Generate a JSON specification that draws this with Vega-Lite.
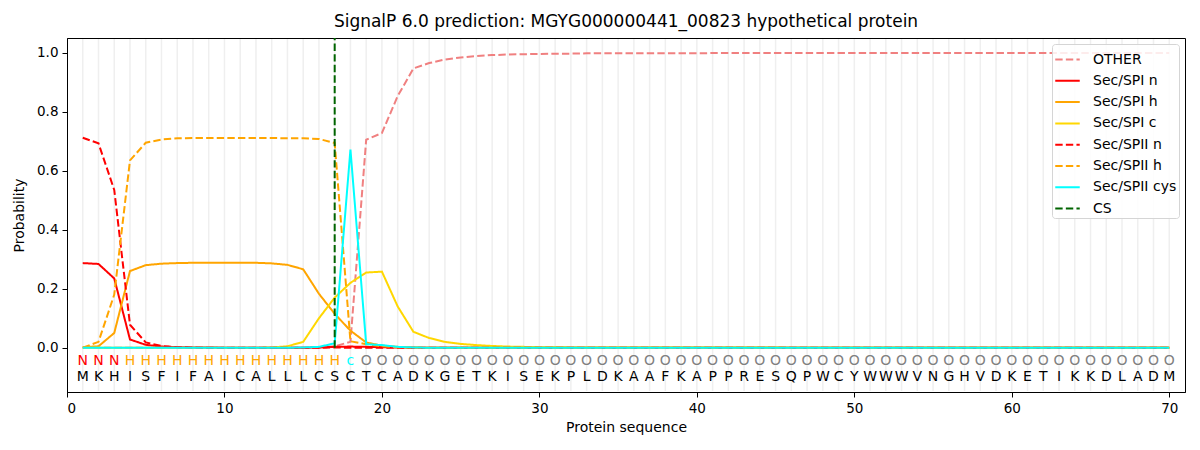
{
  "$schema": "https://vega.github.io/schema/vega-lite/v6.json",
  "autosize": {"type": "none"},
  "padding": {"left": 67, "top": 38, "right": 15, "bottom": 58},
  "width": 1118,
  "height": 354,
  "title": {"text": "SignalP 6.0 prediction: MGYG000000441_00823 hypothetical protein", "fontSize": 17, "fontWeight": "normal", "font": "DejaVu Sans", "offset": 7, "color": "black"},
  "datasets": {
    "seq": [
      {"p":1,"aa":"M","lab":"N","OTHER":0,"Sec/SPI n":0.287,"Sec/SPI h":0.002,"Sec/SPI c":0,"Sec/SPII n":0.712,"Sec/SPII h":0.0,"Sec/SPII cys":0},
      {"p":2,"aa":"K","lab":"N","OTHER":0,"Sec/SPI n":0.284,"Sec/SPI h":0.005,"Sec/SPI c":0,"Sec/SPII n":0.693,"Sec/SPII h":0.02,"Sec/SPII cys":0},
      {"p":3,"aa":"H","lab":"N","OTHER":0,"Sec/SPI n":0.235,"Sec/SPI h":0.05,"Sec/SPI c":0,"Sec/SPII n":0.535,"Sec/SPII h":0.18,"Sec/SPII cys":0},
      {"p":4,"aa":"I","lab":"H","OTHER":0,"Sec/SPI n":0.028,"Sec/SPI h":0.26,"Sec/SPI c":0,"Sec/SPII n":0.078,"Sec/SPII h":0.635,"Sec/SPII cys":0},
      {"p":5,"aa":"S","lab":"H","OTHER":0,"Sec/SPI n":0.01,"Sec/SPI h":0.28,"Sec/SPI c":0,"Sec/SPII n":0.018,"Sec/SPII h":0.695,"Sec/SPII cys":0},
      {"p":6,"aa":"F","lab":"H","OTHER":0,"Sec/SPI n":0.004,"Sec/SPI h":0.285,"Sec/SPI c":0,"Sec/SPII n":0.006,"Sec/SPII h":0.706,"Sec/SPII cys":0},
      {"p":7,"aa":"I","lab":"H","OTHER":0,"Sec/SPI n":0.002,"Sec/SPI h":0.287,"Sec/SPI c":0,"Sec/SPII n":0.002,"Sec/SPII h":0.71,"Sec/SPII cys":0},
      {"p":8,"aa":"F","lab":"H","OTHER":0,"Sec/SPI n":0.001,"Sec/SPI h":0.288,"Sec/SPI c":0,"Sec/SPII n":0.001,"Sec/SPII h":0.711,"Sec/SPII cys":0},
      {"p":9,"aa":"A","lab":"H","OTHER":0,"Sec/SPI n":0.001,"Sec/SPI h":0.288,"Sec/SPI c":0,"Sec/SPII n":0,"Sec/SPII h":0.711,"Sec/SPII cys":0},
      {"p":10,"aa":"I","lab":"H","OTHER":0,"Sec/SPI n":0,"Sec/SPI h":0.288,"Sec/SPI c":0,"Sec/SPII n":0,"Sec/SPII h":0.711,"Sec/SPII cys":0},
      {"p":11,"aa":"C","lab":"H","OTHER":0,"Sec/SPI n":0,"Sec/SPI h":0.288,"Sec/SPI c":0,"Sec/SPII n":0,"Sec/SPII h":0.711,"Sec/SPII cys":0},
      {"p":12,"aa":"A","lab":"H","OTHER":0,"Sec/SPI n":0,"Sec/SPI h":0.288,"Sec/SPI c":0,"Sec/SPII n":0,"Sec/SPII h":0.711,"Sec/SPII cys":0},
      {"p":13,"aa":"L","lab":"H","OTHER":0,"Sec/SPI n":0,"Sec/SPI h":0.286,"Sec/SPI c":0.001,"Sec/SPII n":0,"Sec/SPII h":0.711,"Sec/SPII cys":0},
      {"p":14,"aa":"L","lab":"H","OTHER":0,"Sec/SPI n":0,"Sec/SPI h":0.281,"Sec/SPI c":0.005,"Sec/SPII n":0,"Sec/SPII h":0.71,"Sec/SPII cys":0},
      {"p":15,"aa":"L","lab":"H","OTHER":0,"Sec/SPI n":0,"Sec/SPI h":0.266,"Sec/SPI c":0.02,"Sec/SPII n":0,"Sec/SPII h":0.71,"Sec/SPII cys":0.001},
      {"p":16,"aa":"C","lab":"H","OTHER":0.001,"Sec/SPI n":0.001,"Sec/SPI h":0.183,"Sec/SPI c":0.1,"Sec/SPII n":0,"Sec/SPII h":0.708,"Sec/SPII cys":0.003},
      {"p":17,"aa":"S","lab":"H","OTHER":0.005,"Sec/SPI n":0.003,"Sec/SPI h":0.115,"Sec/SPI c":0.17,"Sec/SPII n":0.001,"Sec/SPII h":0.694,"Sec/SPII cys":0.015},
      {"p":18,"aa":"C","lab":"c","OTHER":0.02,"Sec/SPI n":0.004,"Sec/SPI h":0.058,"Sec/SPI c":0.22,"Sec/SPII n":0,"Sec/SPII h":0.022,"Sec/SPII cys":0.672},
      {"p":19,"aa":"T","lab":"O","OTHER":0.705,"Sec/SPI n":0.003,"Sec/SPI h":0.018,"Sec/SPI c":0.255,"Sec/SPII n":0,"Sec/SPII h":0.012,"Sec/SPII cys":0.012},
      {"p":20,"aa":"C","lab":"O","OTHER":0.728,"Sec/SPI n":0.002,"Sec/SPI h":0.007,"Sec/SPI c":0.258,"Sec/SPII n":0,"Sec/SPII h":0.005,"Sec/SPII cys":0.009},
      {"p":21,"aa":"A","lab":"O","OTHER":0.853,"Sec/SPI n":0.001,"Sec/SPI h":0.003,"Sec/SPI c":0.14,"Sec/SPII n":0,"Sec/SPII h":0.002,"Sec/SPII cys":0.003},
      {"p":22,"aa":"D","lab":"O","OTHER":0.947,"Sec/SPI n":0,"Sec/SPI h":0.001,"Sec/SPI c":0.054,"Sec/SPII n":0,"Sec/SPII h":0.001,"Sec/SPII cys":0.001},
      {"p":23,"aa":"K","lab":"O","OTHER":0.965,"Sec/SPI n":0,"Sec/SPI h":0,"Sec/SPI c":0.033,"Sec/SPII n":0,"Sec/SPII h":0,"Sec/SPII cys":0},
      {"p":24,"aa":"G","lab":"O","OTHER":0.977,"Sec/SPI n":0,"Sec/SPI h":0,"Sec/SPI c":0.02,"Sec/SPII n":0,"Sec/SPII h":0,"Sec/SPII cys":0},
      {"p":25,"aa":"E","lab":"O","OTHER":0.984,"Sec/SPI n":0,"Sec/SPI h":0,"Sec/SPI c":0.013,"Sec/SPII n":0,"Sec/SPII h":0,"Sec/SPII cys":0},
      {"p":26,"aa":"T","lab":"O","OTHER":0.989,"Sec/SPI n":0,"Sec/SPI h":0,"Sec/SPI c":0.009,"Sec/SPII n":0,"Sec/SPII h":0,"Sec/SPII cys":0},
      {"p":27,"aa":"K","lab":"O","OTHER":0.992,"Sec/SPI n":0,"Sec/SPI h":0,"Sec/SPI c":0.006,"Sec/SPII n":0,"Sec/SPII h":0,"Sec/SPII cys":0},
      {"p":28,"aa":"I","lab":"O","OTHER":0.994,"Sec/SPI n":0,"Sec/SPI h":0,"Sec/SPI c":0.004,"Sec/SPII n":0,"Sec/SPII h":0,"Sec/SPII cys":0},
      {"p":29,"aa":"S","lab":"O","OTHER":0.995,"Sec/SPI n":0,"Sec/SPI h":0,"Sec/SPI c":0.003,"Sec/SPII n":0,"Sec/SPII h":0,"Sec/SPII cys":0},
      {"p":30,"aa":"E","lab":"O","OTHER":0.996,"Sec/SPI n":0,"Sec/SPI h":0,"Sec/SPI c":0.002,"Sec/SPII n":0,"Sec/SPII h":0,"Sec/SPII cys":0},
      {"p":31,"aa":"K","lab":"O","OTHER":0.997,"Sec/SPI n":0,"Sec/SPI h":0,"Sec/SPI c":0.002,"Sec/SPII n":0,"Sec/SPII h":0,"Sec/SPII cys":0},
      {"p":32,"aa":"P","lab":"O","OTHER":0.997,"Sec/SPI n":0,"Sec/SPI h":0,"Sec/SPI c":0.001,"Sec/SPII n":0,"Sec/SPII h":0,"Sec/SPII cys":0},
      {"p":33,"aa":"L","lab":"O","OTHER":0.998,"Sec/SPI n":0,"Sec/SPI h":0,"Sec/SPI c":0.001,"Sec/SPII n":0,"Sec/SPII h":0,"Sec/SPII cys":0},
      {"p":34,"aa":"D","lab":"O","OTHER":0.998,"Sec/SPI n":0,"Sec/SPI h":0,"Sec/SPI c":0.001,"Sec/SPII n":0,"Sec/SPII h":0,"Sec/SPII cys":0},
      {"p":35,"aa":"K","lab":"O","OTHER":0.998,"Sec/SPI n":0,"Sec/SPI h":0,"Sec/SPI c":0.001,"Sec/SPII n":0,"Sec/SPII h":0,"Sec/SPII cys":0},
      {"p":36,"aa":"A","lab":"O","OTHER":0.998,"Sec/SPI n":0,"Sec/SPI h":0,"Sec/SPI c":0.001,"Sec/SPII n":0,"Sec/SPII h":0,"Sec/SPII cys":0},
      {"p":37,"aa":"A","lab":"O","OTHER":0.998,"Sec/SPI n":0,"Sec/SPI h":0,"Sec/SPI c":0.001,"Sec/SPII n":0,"Sec/SPII h":0,"Sec/SPII cys":0},
      {"p":38,"aa":"F","lab":"O","OTHER":0.998,"Sec/SPI n":0,"Sec/SPI h":0,"Sec/SPI c":0.001,"Sec/SPII n":0,"Sec/SPII h":0,"Sec/SPII cys":0},
      {"p":39,"aa":"K","lab":"O","OTHER":0.998,"Sec/SPI n":0,"Sec/SPI h":0,"Sec/SPI c":0.001,"Sec/SPII n":0,"Sec/SPII h":0,"Sec/SPII cys":0},
      {"p":40,"aa":"A","lab":"O","OTHER":0.998,"Sec/SPI n":0,"Sec/SPI h":0,"Sec/SPI c":0.001,"Sec/SPII n":0,"Sec/SPII h":0,"Sec/SPII cys":0},
      {"p":41,"aa":"P","lab":"O","OTHER":0.999,"Sec/SPI n":0,"Sec/SPI h":0,"Sec/SPI c":0.001,"Sec/SPII n":0,"Sec/SPII h":0,"Sec/SPII cys":0},
      {"p":42,"aa":"P","lab":"O","OTHER":0.999,"Sec/SPI n":0,"Sec/SPI h":0,"Sec/SPI c":0.001,"Sec/SPII n":0,"Sec/SPII h":0,"Sec/SPII cys":0},
      {"p":43,"aa":"R","lab":"O","OTHER":0.999,"Sec/SPI n":0,"Sec/SPI h":0,"Sec/SPI c":0.001,"Sec/SPII n":0,"Sec/SPII h":0,"Sec/SPII cys":0},
      {"p":44,"aa":"E","lab":"O","OTHER":0.999,"Sec/SPI n":0,"Sec/SPI h":0,"Sec/SPI c":0.001,"Sec/SPII n":0,"Sec/SPII h":0,"Sec/SPII cys":0},
      {"p":45,"aa":"S","lab":"O","OTHER":0.999,"Sec/SPI n":0,"Sec/SPI h":0,"Sec/SPI c":0.001,"Sec/SPII n":0,"Sec/SPII h":0,"Sec/SPII cys":0},
      {"p":46,"aa":"Q","lab":"O","OTHER":0.999,"Sec/SPI n":0,"Sec/SPI h":0,"Sec/SPI c":0,"Sec/SPII n":0,"Sec/SPII h":0,"Sec/SPII cys":0},
      {"p":47,"aa":"P","lab":"O","OTHER":0.999,"Sec/SPI n":0,"Sec/SPI h":0,"Sec/SPI c":0,"Sec/SPII n":0,"Sec/SPII h":0,"Sec/SPII cys":0},
      {"p":48,"aa":"W","lab":"O","OTHER":0.999,"Sec/SPI n":0,"Sec/SPI h":0,"Sec/SPI c":0,"Sec/SPII n":0,"Sec/SPII h":0,"Sec/SPII cys":0},
      {"p":49,"aa":"C","lab":"O","OTHER":0.999,"Sec/SPI n":0,"Sec/SPI h":0,"Sec/SPI c":0,"Sec/SPII n":0,"Sec/SPII h":0,"Sec/SPII cys":0},
      {"p":50,"aa":"Y","lab":"O","OTHER":0.999,"Sec/SPI n":0,"Sec/SPI h":0,"Sec/SPI c":0,"Sec/SPII n":0,"Sec/SPII h":0,"Sec/SPII cys":0},
      {"p":51,"aa":"W","lab":"O","OTHER":0.999,"Sec/SPI n":0,"Sec/SPI h":0,"Sec/SPI c":0,"Sec/SPII n":0,"Sec/SPII h":0,"Sec/SPII cys":0},
      {"p":52,"aa":"W","lab":"O","OTHER":0.999,"Sec/SPI n":0,"Sec/SPI h":0,"Sec/SPI c":0,"Sec/SPII n":0,"Sec/SPII h":0,"Sec/SPII cys":0},
      {"p":53,"aa":"W","lab":"O","OTHER":0.999,"Sec/SPI n":0,"Sec/SPI h":0,"Sec/SPI c":0,"Sec/SPII n":0,"Sec/SPII h":0,"Sec/SPII cys":0},
      {"p":54,"aa":"V","lab":"O","OTHER":0.999,"Sec/SPI n":0,"Sec/SPI h":0,"Sec/SPI c":0,"Sec/SPII n":0,"Sec/SPII h":0,"Sec/SPII cys":0},
      {"p":55,"aa":"N","lab":"O","OTHER":0.999,"Sec/SPI n":0,"Sec/SPI h":0,"Sec/SPI c":0,"Sec/SPII n":0,"Sec/SPII h":0,"Sec/SPII cys":0},
      {"p":56,"aa":"G","lab":"O","OTHER":0.999,"Sec/SPI n":0,"Sec/SPI h":0,"Sec/SPI c":0,"Sec/SPII n":0,"Sec/SPII h":0,"Sec/SPII cys":0},
      {"p":57,"aa":"H","lab":"O","OTHER":0.999,"Sec/SPI n":0,"Sec/SPI h":0,"Sec/SPI c":0,"Sec/SPII n":0,"Sec/SPII h":0,"Sec/SPII cys":0},
      {"p":58,"aa":"V","lab":"O","OTHER":0.999,"Sec/SPI n":0,"Sec/SPI h":0,"Sec/SPI c":0,"Sec/SPII n":0,"Sec/SPII h":0,"Sec/SPII cys":0},
      {"p":59,"aa":"D","lab":"O","OTHER":0.999,"Sec/SPI n":0,"Sec/SPI h":0,"Sec/SPI c":0,"Sec/SPII n":0,"Sec/SPII h":0,"Sec/SPII cys":0},
      {"p":60,"aa":"K","lab":"O","OTHER":0.999,"Sec/SPI n":0,"Sec/SPI h":0,"Sec/SPI c":0,"Sec/SPII n":0,"Sec/SPII h":0,"Sec/SPII cys":0},
      {"p":61,"aa":"E","lab":"O","OTHER":0.999,"Sec/SPI n":0,"Sec/SPI h":0,"Sec/SPI c":0,"Sec/SPII n":0,"Sec/SPII h":0,"Sec/SPII cys":0},
      {"p":62,"aa":"T","lab":"O","OTHER":0.999,"Sec/SPI n":0,"Sec/SPI h":0,"Sec/SPI c":0,"Sec/SPII n":0,"Sec/SPII h":0,"Sec/SPII cys":0},
      {"p":63,"aa":"I","lab":"O","OTHER":0.999,"Sec/SPI n":0,"Sec/SPI h":0,"Sec/SPI c":0,"Sec/SPII n":0,"Sec/SPII h":0,"Sec/SPII cys":0},
      {"p":64,"aa":"K","lab":"O","OTHER":0.999,"Sec/SPI n":0,"Sec/SPI h":0,"Sec/SPI c":0,"Sec/SPII n":0,"Sec/SPII h":0,"Sec/SPII cys":0},
      {"p":65,"aa":"K","lab":"O","OTHER":0.999,"Sec/SPI n":0,"Sec/SPI h":0,"Sec/SPI c":0,"Sec/SPII n":0,"Sec/SPII h":0,"Sec/SPII cys":0},
      {"p":66,"aa":"D","lab":"O","OTHER":0.999,"Sec/SPI n":0,"Sec/SPI h":0,"Sec/SPI c":0,"Sec/SPII n":0,"Sec/SPII h":0,"Sec/SPII cys":0},
      {"p":67,"aa":"L","lab":"O","OTHER":0.999,"Sec/SPI n":0,"Sec/SPI h":0,"Sec/SPI c":0,"Sec/SPII n":0,"Sec/SPII h":0,"Sec/SPII cys":0},
      {"p":68,"aa":"A","lab":"O","OTHER":0.999,"Sec/SPI n":0,"Sec/SPI h":0,"Sec/SPI c":0,"Sec/SPII n":0,"Sec/SPII h":0,"Sec/SPII cys":0},
      {"p":69,"aa":"D","lab":"O","OTHER":0.999,"Sec/SPI n":0,"Sec/SPI h":0,"Sec/SPI c":0,"Sec/SPII n":0,"Sec/SPII h":0,"Sec/SPII cys":0},
      {"p":70,"aa":"M","lab":"O","OTHER":0.999,"Sec/SPI n":0,"Sec/SPI h":0,"Sec/SPI c":0,"Sec/SPII n":0,"Sec/SPII h":0,"Sec/SPII cys":0}
    ],
    "cs": [
      {"p": 17, "s": "CS", "v": 0},
      {"p": 17, "s": "CS", "v": 1.05}
    ]
  },
  "encoding": {
    "x": {
      "field": "p",
      "type": "quantitative",
      "scale": {"domain": [0, 71], "nice": false, "zero": false},
      "axis": {"values": [0, 10, 20, 30, 40, 50, 60, 70], "grid": false, "title": "Protein sequence", "format": "d"}
    }
  },
  "layer": [
    {
      "data": {"name": "seq"},
      "mark": {"type": "rule", "color": "#efefef", "strokeWidth": 1.5},
      "encoding": {
        "y": {"datum": -0.147, "type": "quantitative"},
        "y2": {"datum": 1.047}
      }
    },
    {
      "data": {"name": "seq"},
      "transform": [
        {"fold": ["OTHER", "Sec/SPI n", "Sec/SPI h", "Sec/SPI c", "Sec/SPII n", "Sec/SPII h", "Sec/SPII cys"], "as": ["s", "v"]}
      ],
      "mark": {"type": "line", "strokeWidth": 2, "clip": true},
      "encoding": {
        "y": {
          "field": "v",
          "type": "quantitative",
          "scale": {"domain": [-0.15, 1.05], "nice": false, "zero": false},
          "axis": {"values": [0, 0.2, 0.4, 0.6, 0.8, 1.0], "format": ".1f", "grid": false, "title": "Probability"}
        },
        "color": {
          "field": "s",
          "type": "nominal",
          "scale": {
            "domain": ["OTHER", "Sec/SPI n", "Sec/SPI h", "Sec/SPI c", "Sec/SPII n", "Sec/SPII h", "Sec/SPII cys", "CS"],
            "range": ["#f08080", "#ff0000", "#ffa500", "#ffd700", "#ff0000", "#ffa500", "#00ffff", "#006400"]
          },
          "legend": {"title": null}
        },
        "strokeDash": {
          "field": "s",
          "type": "nominal",
          "scale": {
            "domain": ["OTHER", "Sec/SPI n", "Sec/SPI h", "Sec/SPI c", "Sec/SPII n", "Sec/SPII h", "Sec/SPII cys", "CS"],
            "range": [[7.4, 3.2], [1, 0], [1, 0], [1, 0], [7.4, 3.2], [7.4, 3.2], [1, 0], [7.4, 3.2]]
          },
          "legend": {"title": null}
        },
        "order": {"field": "p", "type": "quantitative"}
      }
    },
    {
      "data": {"name": "cs"},
      "mark": {"type": "line", "strokeWidth": 2, "clip": true},
      "encoding": {
        "y": {"field": "v", "type": "quantitative"},
        "color": {"field": "s", "type": "nominal"},
        "strokeDash": {"field": "s", "type": "nominal"}
      }
    },
    {
      "data": {"name": "seq"},
      "mark": {"type": "text", "fontSize": 14, "font": "DejaVu Sans", "baseline": "middle", "align": "center"},
      "encoding": {
        "y": {"datum": -0.045, "type": "quantitative"},
        "text": {"field": "lab"},
        "color": {
          "condition": [
            {"test": "datum.lab === 'N'", "value": "#ff0000"},
            {"test": "datum.lab === 'H'", "value": "#ffa500"},
            {"test": "datum.lab === 'c'", "value": "#00ffff"}
          ],
          "value": "#808080"
        }
      }
    },
    {
      "data": {"name": "seq"},
      "mark": {"type": "text", "fontSize": 14, "font": "DejaVu Sans", "baseline": "middle", "align": "center", "color": "black"},
      "encoding": {
        "y": {"datum": -0.1, "type": "quantitative"},
        "text": {"field": "aa"}
      }
    }
  ],
  "config": {
    "font": "DejaVu Sans",
    "background": "white",
    "view": {"stroke": "black", "strokeWidth": 1},
    "axis": {
      "domainColor": "black",
      "tickColor": "black",
      "tickSize": 5,
      "labelFontSize": 13.5,
      "labelColor": "black",
      "labelPadding": 4,
      "titleFontSize": 14,
      "titleFontWeight": "normal",
      "titleColor": "black",
      "labelFont": "DejaVu Sans",
      "titleFont": "DejaVu Sans"
    },
    "axisX": {"titlePadding": 6},
    "axisY": {"titlePadding": 10},
    "legend": {
      "orient": "top-right",
      "offset": 6,
      "fillColor": "rgba(255,255,255,0.85)",
      "strokeColor": "#d5d5d5",
      "cornerRadius": 3,
      "padding": 2,
      "titlePadding": 0,
      "labelFontSize": 14,
      "labelFont": "DejaVu Sans",
      "labelColor": "black",
      "labelLimit": 300,
      "symbolType": "stroke",
      "symbolStrokeWidth": 2,
      "symbolSize": 600,
      "rowPadding": 0.3,
      "labelOffset": 12
    }
  }
}
